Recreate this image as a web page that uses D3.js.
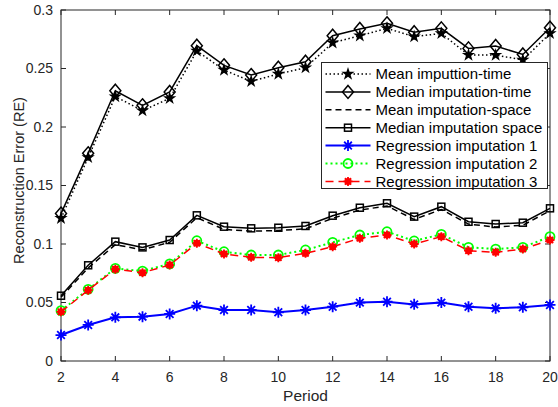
<!DOCTYPE html>
<html>
<head>
<meta charset="utf-8">
<script src="https://cdn.jsdelivr.net/npm/d3@7"></script>
<style>
  body { margin: 0; background: #fff; }
  text { font-family: "Liberation Sans", Arial, Helvetica, sans-serif; }
</style>
</head>
<body>
<div id="chart"></div>
<script>
var periods = d3.range(2, 21)
var meanTime = [0.122, 0.174, 0.226, 0.214, 0.2245, 0.265, 0.2487, 0.239, 0.2453, 0.2507, 0.272, 0.278, 0.2843, 0.2772, 0.280, 0.2615, 0.2615, 0.2573, 0.280]
var medianTime = [0.126, 0.1775, 0.231, 0.2185, 0.230, 0.2695, 0.2527, 0.2444, 0.2507, 0.2558, 0.278, 0.2838, 0.2886, 0.281, 0.2843, 0.2672, 0.2692, 0.262, 0.2849]
var meanSpace = [0.0545, 0.0795, 0.0995, 0.095, 0.1015, 0.1225, 0.1125, 0.111, 0.1115, 0.113, 0.122, 0.129, 0.1325, 0.121, 0.1295, 0.117, 0.1145, 0.116, 0.1285]
var medianSpace = [0.0558, 0.0818, 0.102, 0.0971, 0.1034, 0.1245, 0.1148, 0.1134, 0.1139, 0.1154, 0.1242, 0.131, 0.1348, 0.1234, 0.1319, 0.119, 0.1171, 0.1182, 0.1305]
var regression1 = [0.0222, 0.0308, 0.0373, 0.0379, 0.0402, 0.0473, 0.0436, 0.0436, 0.0416, 0.0436, 0.0464, 0.0499, 0.0507, 0.0484, 0.0499, 0.0464, 0.045, 0.0459, 0.0479]
var regression2 = [0.043, 0.0613, 0.0792, 0.0769, 0.083, 0.1028, 0.0934, 0.0906, 0.0906, 0.0949, 0.1014, 0.1077, 0.1105, 0.1026, 0.1083, 0.0972, 0.0957, 0.0972, 0.1063]
var regression3 = [0.042, 0.0605, 0.0785, 0.0755, 0.082, 0.1006, 0.0915, 0.0886, 0.0883, 0.092, 0.0977, 0.1049, 0.1077, 0.100, 0.1063, 0.0943, 0.0929, 0.0957, 0.1034]
var xTicks = [2, 4, 6, 8, 10, 12, 14, 16, 18, 20]
var yTicks = [0, 0.05, 0.1, 0.15, 0.2, 0.25, 0.3]
var yTickLabels = ['0', '0.05', '0.1', '0.15', '0.2', '0.25', '0.3']

var series = [
  { name: 'Mean imputtion-time', values: meanTime, color: '#000', dash: '1.5,2.5', width: 1.5, marker: 'star' },
  { name: 'Median imputation-time', values: medianTime, color: '#000', dash: null, width: 1.5, marker: 'diamond' },
  { name: 'Mean imputation-space', values: meanSpace, color: '#000', dash: '6,4', width: 1.5, marker: null },
  { name: 'Median imputation space', values: medianSpace, color: '#000', dash: null, width: 1.5, marker: 'square' },
  { name: 'Regression imputation 1', values: regression1, color: '#0000ff', dash: null, width: 2, marker: 'asterisk' },
  { name: 'Regression imputation 2', values: regression2, color: '#00ff00', dash: '2,3', width: 2, marker: 'circle' },
  { name: 'Regression imputation 3', values: regression3, color: '#ff0000', dash: '8,5', width: 1.5, marker: 'dot' }
]

var width = 558
var height = 407
var margin = { top: 10, left: 61, right: 8, bottom: 46 }
var innerW = width - margin.left - margin.right
var innerH = height - margin.top - margin.bottom
var axisColor = '#262626'

var svg = d3.select('#chart').append('svg')
  .attr('width', width)
  .attr('height', height)

var g = svg.append('g').attr('transform', `translate(${margin.left},${margin.top})`)

var x = d3.scaleLinear().domain([2, 20]).range([0, innerW])
var y = d3.scaleLinear().domain([0, 0.3]).range([innerH, 0])

// box + ticks (MATLAB style, ticks inside on all four sides)
g.append('rect')
  .attr('width', innerW).attr('height', innerH)
  .attr('fill', 'none').attr('stroke', axisColor).attr('stroke-width', 1)

var tickLen = 5
xTicks.forEach(t => {
  g.append('line').attr('x1', x(t)).attr('x2', x(t)).attr('y1', innerH).attr('y2', innerH - tickLen)
    .attr('stroke', axisColor)
  g.append('line').attr('x1', x(t)).attr('x2', x(t)).attr('y1', 0).attr('y2', tickLen)
    .attr('stroke', axisColor)
  g.append('text').text(t)
    .attr('x', x(t)).attr('y', innerH + 21)
    .attr('text-anchor', 'middle').attr('font-size', 14).attr('fill', axisColor)
})
yTicks.forEach((t, i) => {
  g.append('line').attr('x1', 0).attr('x2', tickLen).attr('y1', y(t)).attr('y2', y(t))
    .attr('stroke', axisColor)
  g.append('line').attr('x1', innerW).attr('x2', innerW - tickLen).attr('y1', y(t)).attr('y2', y(t))
    .attr('stroke', axisColor)
  g.append('text').text(yTickLabels[i])
    .attr('x', -8).attr('y', y(t)).attr('dy', '0.35em')
    .attr('text-anchor', 'end').attr('font-size', 14).attr('fill', axisColor)
})

g.append('text').text('Period')
  .attr('x', innerW / 2).attr('y', innerH + 40)
  .attr('text-anchor', 'middle').attr('font-size', 15.5).attr('fill', axisColor)

g.append('text').text('Reconstruction Error (RE)')
  .attr('transform', `translate(-37,${innerH / 2 - 5}) rotate(-90)`)
  .attr('text-anchor', 'middle').attr('font-size', 14.5).attr('fill', axisColor)

function drawMarker(sel, type, color) {
  if (type === 'star') {
    sel.append('path').attr('d', d3.symbol(d3.symbolStar, 55)()).attr('fill', color)
  } else if (type === 'diamond') {
    sel.append('path').attr('d', 'M0,-6.5L5.5,0L0,6.5L-5.5,0Z')
      .attr('fill', 'none').attr('stroke', color).attr('stroke-width', 1.5)
  } else if (type === 'square') {
    sel.append('rect').attr('x', -3.5).attr('y', -3.5).attr('width', 7).attr('height', 7)
      .attr('fill', 'none').attr('stroke', color).attr('stroke-width', 1.5)
  } else if (type === 'asterisk') {
    var r = 5.5
    sel.append('path')
      .attr('d', `M${-r},0L${r},0M0,${-r}L0,${r}M${-r * 0.7},${-r * 0.7}L${r * 0.7},${r * 0.7}M${-r * 0.7},${r * 0.7}L${r * 0.7},${-r * 0.7}`)
      .attr('stroke', color).attr('stroke-width', 1.8).attr('fill', 'none')
  } else if (type === 'circle') {
    sel.append('circle').attr('r', 4.5)
      .attr('fill', 'none').attr('stroke', color).attr('stroke-width', 1.8)
  } else if (type === 'dot') {
    var r2 = 4.5
    sel.append('path')
      .attr('d', `M${-r2},0L${r2},0M0,${-r2}L0,${r2}M${-r2 * 0.7},${-r2 * 0.7}L${r2 * 0.7},${r2 * 0.7}M${-r2 * 0.7},${r2 * 0.7}L${r2 * 0.7},${-r2 * 0.7}`)
      .attr('stroke', color).attr('stroke-width', 1.8).attr('fill', 'none')
    sel.append('circle').attr('r', 3.5).attr('fill', color)
  }
}

var line = d3.line().x((d, i) => x(periods[i])).y(d => y(d))

series.forEach(s => {
  var sg = g.append('g')
  sg.append('path')
    .attr('d', line(s.values))
    .attr('fill', 'none')
    .attr('stroke', s.color)
    .attr('stroke-width', s.width)
    .attr('stroke-dasharray', s.dash)
  if (s.marker) {
    s.values.forEach((v, i) => {
      var m = sg.append('g').attr('transform', `translate(${x(periods[i])},${y(v)})`)
      drawMarker(m, s.marker, s.color)
    })
  }
})

// legend
var lg = svg.append('g').attr('transform', 'translate(321.5,62.5)')
lg.append('rect')
  .attr('width', 226).attr('height', 126)
  .attr('fill', '#fff').attr('stroke', axisColor).attr('stroke-width', 1)

series.forEach((s, i) => {
  var ry = 11.5 + i * 17.9
  var row = lg.append('g').attr('transform', `translate(0,${ry})`)
  row.append('line')
    .attr('x1', 4).attr('x2', 49).attr('y1', 0).attr('y2', 0)
    .attr('stroke', s.color).attr('stroke-width', s.width)
    .attr('stroke-dasharray', s.dash)
  if (s.marker) {
    drawMarker(row.append('g').attr('transform', 'translate(26.5,0)'), s.marker, s.color)
  }
  row.append('text').text(s.name)
    .attr('x', 54).attr('y', 0).attr('dy', '0.35em')
    .attr('font-size', 15).attr('fill', '#000')
})
</script>
</body>
</html>
